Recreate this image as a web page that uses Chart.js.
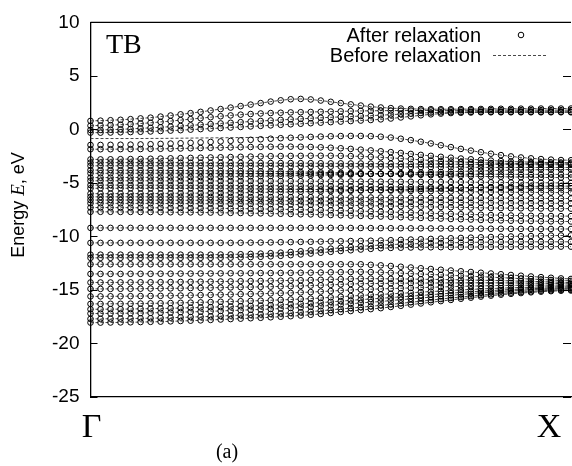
<!DOCTYPE html>
<html>
<head>
<meta charset="utf-8">
<script src="https://cdn.jsdelivr.net/npm/chart.js@4.4.0/dist/chart.umd.min.js"></script>
<style>
html, body { margin: 0; padding: 0; background: #fff; overflow: hidden; }
canvas { display: block; }
</style>
</head>
<body>
<canvas id="bands" width="576" height="466"></canvas>
<script>
// k-path end labels and energy ticks (eV)
const kLabels = ['Γ', 'X'];
const yTicks = [-25, -20, -15, -10, -5, 0, 5, 10];

// bands around the gap (after relaxation), 49 k-points from Γ to X
const upperBands = [
  [0.8,0.82,0.86,0.9,0.96,1.03,1.1,1.2,1.3,1.41,1.52,1.64,1.77,1.9,2.04,2.18,2.32,2.46,2.6,2.72,2.82,2.85,2.8,2.7,2.58,2.46,2.34,2.23,2.13,2.05,1.99,1.95,1.92,1.9,1.89,1.89,1.89,1.9,1.9,1.91,1.92,1.93,1.93,1.94,1.94,1.95,1.95,1.95,1.95],
  [0.35,0.37,0.4,0.44,0.49,0.55,0.62,0.7,0.78,0.87,0.96,1.05,1.14,1.23,1.31,1.38,1.44,1.49,1.53,1.56,1.59,1.61,1.63,1.65,1.67,1.69,1.71,1.73,1.74,1.75,1.76,1.76,1.77,1.77,1.78,1.78,1.78,1.79,1.79,1.79,1.8,1.8,1.8,1.8,1.8,1.8,1.8,1.8,1.8],
  [-0.05,-0.04,-0.02,0.01,0.05,0.1,0.15,0.2,0.26,0.32,0.38,0.44,0.5,0.56,0.62,0.68,0.74,0.79,0.84,0.89,0.94,0.99,1.04,1.09,1.13,1.17,1.21,1.25,1.29,1.33,1.38,1.43,1.48,1.53,1.57,1.6,1.62,1.63,1.64,1.65,1.65,1.65,1.65,1.65,1.65,1.65,1.65,1.65,1.65],
  [-0.3,-0.3,-0.29,-0.27,-0.25,-0.22,-0.19,-0.15,-0.11,-0.07,-0.02,0.03,0.08,0.13,0.18,0.23,0.28,0.33,0.38,0.43,0.48,0.53,0.58,0.63,0.68,0.73,0.78,0.83,0.88,0.94,1.02,1.12,1.22,1.32,1.41,1.48,1.53,1.56,1.58,1.6,1.6,1.6,1.6,1.6,1.6,1.6,1.6,1.6,1.6],
  [-1.45,-1.45,-1.44,-1.43,-1.42,-1.4,-1.38,-1.35,-1.32,-1.29,-1.25,-1.21,-1.17,-1.12,-1.07,-1.02,-0.97,-0.92,-0.87,-0.82,-0.78,-0.74,-0.7,-0.67,-0.64,-0.62,-0.61,-0.61,-0.63,-0.68,-0.76,-0.87,-1,-1.15,-1.31,-1.48,-1.65,-1.82,-1.98,-2.13,-2.27,-2.4,-2.52,-2.62,-2.7,-2.77,-2.82,-2.86,-2.88],
  [-1.85,-1.85,-1.85,-1.84,-1.84,-1.83,-1.82,-1.81,-1.8,-1.78,-1.76,-1.74,-1.72,-1.7,-1.68,-1.66,-1.64,-1.63,-1.62,-1.61,-1.61,-1.62,-1.64,-1.67,-1.71,-1.76,-1.82,-1.89,-1.96,-2.04,-2.12,-2.2,-2.29,-2.38,-2.47,-2.56,-2.64,-2.72,-2.79,-2.85,-2.91,-2.96,-3,-3.03,-3.06,-3.08,-3.09,-3.1,-3.1]
];
// the one band whose unrelaxed curve differs near Γ
const band5Before = [-0.85,-0.85,-0.85,-0.85,-0.85,-0.85,-0.84,-0.84,-0.83,-0.82,-0.81,-0.8,-0.79,-0.78,-0.77,-0.76,-0.75,-0.75,-0.76,-0.77,-0.78,-0.74,-0.7,-0.67,-0.64,-0.62,-0.61,-0.61,-0.63,-0.68,-0.76,-0.87,-1,-1.15,-1.31,-1.48,-1.65,-1.82,-1.98,-2.13,-2.27,-2.4,-2.52,-2.62,-2.7,-2.77,-2.82,-2.86,-2.88];

// dense block between -3 and -9 eV
const valenceBands = [
  [-2.8,-2.8,-2.79,-2.78,-2.77,-2.76,-2.74,-2.72,-2.7,-2.68,-2.66,-2.64,-2.62,-2.6,-2.58,-2.56,-2.54,-2.52,-2.5,-2.49,-2.48,-2.47,-2.46,-2.46,-2.46,-2.47,-2.49,-2.52,-2.56,-2.61,-2.66,-2.72,-2.78,-2.84,-2.9,-2.95,-3,-3.04,-3.08,-3.11,-3.14,-3.16,-3.18,-3.19,-3.2,-3.2,-3.21,-3.21,-3.21],
  [-3.1,-3.1,-3.1,-3.1,-3.1,-3.1,-3.1,-3.1,-3.1,-3.1,-3.11,-3.11,-3.12,-3.12,-3.12,-3.12,-3.13,-3.13,-3.14,-3.14,-3.14,-3.15,-3.15,-3.16,-3.17,-3.17,-3.18,-3.18,-3.19,-3.2,-3.2,-3.21,-3.22,-3.23,-3.23,-3.24,-3.25,-3.25,-3.26,-3.27,-3.27,-3.28,-3.28,-3.29,-3.29,-3.3,-3.3,-3.3,-3.3],
  [-3.4,-3.4,-3.4,-3.4,-3.4,-3.4,-3.4,-3.4,-3.4,-3.4,-3.4,-3.4,-3.41,-3.41,-3.42,-3.42,-3.43,-3.43,-3.44,-3.44,-3.45,-3.45,-3.46,-3.46,-3.47,-3.47,-3.48,-3.48,-3.49,-3.49,-3.5,-3.5,-3.51,-3.51,-3.52,-3.52,-3.53,-3.53,-3.54,-3.54,-3.55,-3.55,-3.55,-3.55,-3.55,-3.55,-3.55,-3.55,-3.55],
  [-3.8,-3.8,-3.8,-3.81,-3.81,-3.81,-3.81,-3.82,-3.83,-3.84,-3.84,-3.85,-3.86,-3.86,-3.88,-3.88,-3.9,-3.91,-3.93,-3.94,-3.95,-3.98,-3.99,-4.01,-4.03,-4.05,-4.07,-4.09,-4.12,-4.14,-4.16,-4.19,-4.21,-4.24,-4.27,-4.29,-4.32,-4.34,-4.36,-4.39,-4.41,-4.42,-4.44,-4.46,-4.47,-4.49,-4.49,-4.5,-4.5],
  [-4.1,-4.1,-4.1,-4.1,-4.1,-4.1,-4.1,-4.1,-4.1,-4.1,-4.11,-4.11,-4.11,-4.11,-4.11,-4.11,-4.12,-4.12,-4.12,-4.13,-4.13,-4.13,-4.14,-4.14,-4.14,-4.15,-4.15,-4.15,-4.16,-4.16,-4.16,-4.17,-4.17,-4.17,-4.18,-4.18,-4.18,-4.18,-4.19,-4.19,-4.19,-4.19,-4.2,-4.2,-4.2,-4.2,-4.2,-4.2,-4.2],
  [-4.5,-4.5,-4.5,-4.49,-4.49,-4.48,-4.48,-4.48,-4.47,-4.46,-4.45,-4.45,-4.44,-4.43,-4.42,-4.41,-4.39,-4.38,-4.36,-4.35,-4.33,-4.31,-4.3,-4.27,-4.25,-4.23,-4.21,-4.18,-4.16,-4.13,-4.11,-4.08,-4.06,-4.03,-4,-3.97,-3.94,-3.92,-3.9,-3.87,-3.85,-3.83,-3.81,-3.79,-3.78,-3.76,-3.76,-3.75,-3.75],
  [-4.8,-4.8,-4.8,-4.8,-4.8,-4.8,-4.8,-4.81,-4.81,-4.81,-4.81,-4.81,-4.81,-4.82,-4.82,-4.82,-4.82,-4.82,-4.83,-4.83,-4.83,-4.84,-4.84,-4.85,-4.85,-4.86,-4.86,-4.87,-4.87,-4.88,-4.88,-4.89,-4.89,-4.9,-4.9,-4.91,-4.92,-4.92,-4.93,-4.94,-4.94,-4.95,-4.96,-4.97,-4.98,-4.98,-4.99,-5,-5],
  [-5.2,-5.2,-5.2,-5.2,-5.2,-5.21,-5.21,-5.21,-5.21,-5.22,-5.22,-5.22,-5.22,-5.23,-5.23,-5.24,-5.24,-5.25,-5.25,-5.26,-5.27,-5.28,-5.28,-5.29,-5.3,-5.31,-5.32,-5.33,-5.34,-5.35,-5.36,-5.37,-5.38,-5.39,-5.4,-5.41,-5.42,-5.43,-5.44,-5.45,-5.46,-5.47,-5.48,-5.48,-5.49,-5.49,-5.5,-5.5,-5.5],
  [-5.5,-5.5,-5.5,-5.5,-5.5,-5.51,-5.51,-5.51,-5.52,-5.52,-5.52,-5.53,-5.53,-5.54,-5.54,-5.55,-5.56,-5.56,-5.57,-5.58,-5.59,-5.6,-5.61,-5.62,-5.63,-5.64,-5.66,-5.67,-5.68,-5.7,-5.71,-5.72,-5.74,-5.75,-5.77,-5.78,-5.8,-5.81,-5.82,-5.84,-5.85,-5.86,-5.87,-5.88,-5.88,-5.89,-5.9,-5.9,-5.9],
  [-6,-6,-6,-5.99,-5.99,-5.99,-5.99,-5.98,-5.97,-5.96,-5.96,-5.95,-5.94,-5.94,-5.92,-5.92,-5.9,-5.89,-5.87,-5.86,-5.85,-5.82,-5.81,-5.79,-5.77,-5.75,-5.73,-5.71,-5.68,-5.66,-5.64,-5.61,-5.59,-5.56,-5.53,-5.51,-5.48,-5.46,-5.44,-5.41,-5.39,-5.38,-5.36,-5.34,-5.33,-5.31,-5.31,-5.3,-5.3],
  [-6.3,-6.3,-6.3,-6.3,-6.3,-6.3,-6.3,-6.3,-6.3,-6.3,-6.3,-6.3,-6.31,-6.31,-6.31,-6.31,-6.32,-6.32,-6.32,-6.32,-6.33,-6.33,-6.33,-6.34,-6.34,-6.35,-6.35,-6.35,-6.36,-6.36,-6.37,-6.37,-6.38,-6.38,-6.39,-6.39,-6.4,-6.4,-6.41,-6.41,-6.42,-6.42,-6.43,-6.43,-6.44,-6.44,-6.45,-6.45,-6.45],
  [-6.6,-6.6,-6.6,-6.6,-6.6,-6.61,-6.61,-6.61,-6.61,-6.62,-6.62,-6.62,-6.62,-6.63,-6.63,-6.64,-6.64,-6.65,-6.65,-6.66,-6.67,-6.68,-6.68,-6.69,-6.7,-6.71,-6.72,-6.73,-6.74,-6.75,-6.76,-6.77,-6.78,-6.79,-6.8,-6.81,-6.82,-6.83,-6.84,-6.85,-6.86,-6.87,-6.88,-6.88,-6.89,-6.89,-6.9,-6.9,-6.9],
  [-6.9,-6.9,-6.9,-6.91,-6.91,-6.91,-6.91,-6.92,-6.92,-6.93,-6.93,-6.94,-6.94,-6.95,-6.96,-6.96,-6.97,-6.98,-6.99,-7,-7.01,-7.03,-7.04,-7.05,-7.07,-7.08,-7.1,-7.11,-7.13,-7.15,-7.16,-7.18,-7.2,-7.22,-7.24,-7.25,-7.27,-7.29,-7.3,-7.32,-7.34,-7.35,-7.36,-7.37,-7.38,-7.39,-7.4,-7.4,-7.4],
  [-7.3,-7.3,-7.3,-7.31,-7.31,-7.32,-7.32,-7.32,-7.33,-7.34,-7.35,-7.36,-7.36,-7.37,-7.39,-7.4,-7.41,-7.43,-7.44,-7.46,-7.48,-7.5,-7.52,-7.54,-7.56,-7.59,-7.61,-7.64,-7.66,-7.69,-7.72,-7.75,-7.77,-7.8,-7.84,-7.86,-7.89,-7.92,-7.94,-7.97,-8,-8.01,-8.04,-8.05,-8.07,-8.08,-8.09,-8.1,-8.1],
  [-7.7,-7.7,-7.7,-7.71,-7.71,-7.72,-7.72,-7.73,-7.74,-7.75,-7.75,-7.76,-7.77,-7.78,-7.8,-7.81,-7.83,-7.84,-7.86,-7.88,-7.9,-7.93,-7.94,-7.97,-8,-8.02,-8.05,-8.08,-8.11,-8.14,-8.17,-8.2,-8.23,-8.27,-8.3,-8.33,-8.37,-8.39,-8.42,-8.46,-8.48,-8.5,-8.53,-8.55,-8.56,-8.58,-8.59,-8.6,-8.6]
];

// nearly flat bands between -9 and -12 eV
const middleBands = [
  [-9.2,-9.2,-9.2,-9.2,-9.2,-9.2,-9.2,-9.2,-9.2,-9.2,-9.2,-9.2,-9.2,-9.2,-9.2,-9.2,-9.2,-9.2,-9.2,-9.2,-9.2,-9.2,-9.2,-9.2,-9.2,-9.2,-9.21,-9.21,-9.22,-9.22,-9.23,-9.23,-9.24,-9.24,-9.25,-9.25,-9.26,-9.26,-9.27,-9.27,-9.28,-9.28,-9.29,-9.29,-9.3,-9.3,-9.3,-9.3,-9.3],
  [-10.6,-10.6,-10.6,-10.6,-10.6,-10.6,-10.6,-10.6,-10.6,-10.6,-10.6,-10.6,-10.6,-10.6,-10.6,-10.59,-10.58,-10.57,-10.56,-10.54,-10.53,-10.51,-10.5,-10.48,-10.46,-10.45,-10.43,-10.42,-10.4,-10.38,-10.35,-10.32,-10.29,-10.26,-10.23,-10.2,-10.17,-10.14,-10.11,-10.08,-10.05,-10.02,-10,-9.98,-9.96,-9.94,-9.92,-9.91,-9.9],
  [-11.7,-11.7,-11.7,-11.7,-11.7,-11.7,-11.7,-11.7,-11.7,-11.7,-11.7,-11.7,-11.7,-11.69,-11.68,-11.66,-11.63,-11.6,-11.56,-11.51,-11.45,-11.38,-11.3,-11.22,-11.14,-11.06,-10.99,-10.92,-10.86,-10.8,-10.76,-10.72,-10.69,-10.66,-10.63,-10.61,-10.59,-10.57,-10.55,-10.54,-10.53,-10.52,-10.51,-10.5,-10.5,-10.5,-10.5,-10.5,-10.5],
  [-12,-12,-12,-12,-12,-12,-12,-12,-12,-12,-12,-12,-12,-11.99,-11.98,-11.96,-11.93,-11.9,-11.86,-11.81,-11.75,-11.68,-11.6,-11.52,-11.44,-11.36,-11.29,-11.22,-11.16,-11.1,-11.07,-11.05,-11.03,-11.02,-11.01,-11,-11,-10.99,-10.99,-10.98,-10.98,-10.97,-10.97,-10.96,-10.96,-10.96,-10.95,-10.95,-10.95]
];

// lowest block, fanning in towards X
const lowerBands = [
  [-12.6,-12.6,-12.6,-12.6,-12.6,-12.6,-12.6,-12.6,-12.6,-12.6,-12.6,-12.6,-12.6,-12.6,-12.6,-12.6,-12.6,-12.6,-12.6,-12.6,-12.6,-12.6,-12.6,-12.6,-12.6,-12.6,-12.6,-12.6,-12.65,-12.7,-12.76,-12.83,-12.9,-12.97,-13.04,-13.11,-13.18,-13.25,-13.32,-13.39,-13.46,-13.53,-13.6,-13.67,-13.74,-13.8,-13.86,-13.92,-13.97],
  [-13.5,-13.5,-13.5,-13.5,-13.49,-13.49,-13.49,-13.48,-13.48,-13.47,-13.47,-13.46,-13.46,-13.45,-13.44,-13.44,-13.43,-13.42,-13.42,-13.41,-13.4,-13.39,-13.38,-13.37,-13.35,-13.34,-13.32,-13.31,-13.33,-13.36,-13.39,-13.43,-13.47,-13.51,-13.55,-13.59,-13.63,-13.67,-13.72,-13.76,-13.8,-13.85,-13.89,-13.94,-13.98,-14.02,-14.07,-14.11,-14.15],
  [-14.3,-14.3,-14.3,-14.29,-14.29,-14.28,-14.28,-14.27,-14.26,-14.25,-14.24,-14.23,-14.22,-14.21,-14.2,-14.18,-14.17,-14.16,-14.14,-14.13,-14.11,-14.09,-14.07,-14.05,-14.02,-13.99,-13.96,-13.94,-13.94,-13.95,-13.96,-13.97,-13.98,-14,-14.01,-14.02,-14.04,-14.05,-14.07,-14.09,-14.11,-14.13,-14.15,-14.18,-14.2,-14.22,-14.25,-14.28,-14.31],
  [-14.9,-14.9,-14.9,-14.89,-14.89,-14.88,-14.87,-14.86,-14.85,-14.84,-14.82,-14.81,-14.79,-14.78,-14.76,-14.74,-14.73,-14.71,-14.69,-14.67,-14.65,-14.62,-14.59,-14.56,-14.52,-14.48,-14.44,-14.41,-14.4,-14.39,-14.38,-14.37,-14.36,-14.36,-14.35,-14.35,-14.34,-14.34,-14.33,-14.33,-14.33,-14.34,-14.34,-14.35,-14.37,-14.37,-14.39,-14.41,-14.43],
  [-15.6,-15.6,-15.59,-15.59,-15.58,-15.57,-15.56,-15.55,-15.53,-15.52,-15.5,-15.48,-15.46,-15.44,-15.42,-15.39,-15.37,-15.35,-15.32,-15.3,-15.27,-15.23,-15.2,-15.15,-15.1,-15.05,-15,-14.95,-14.93,-14.9,-14.87,-14.84,-14.81,-14.78,-14.75,-14.72,-14.69,-14.66,-14.64,-14.62,-14.6,-14.58,-14.57,-14.56,-14.55,-14.55,-14.55,-14.55,-14.56],
  [-16.3,-16.3,-16.29,-16.29,-16.28,-16.27,-16.25,-16.24,-16.22,-16.2,-16.18,-16.16,-16.13,-16.1,-16.08,-16.05,-16.02,-16,-15.96,-15.93,-15.89,-15.85,-15.81,-15.75,-15.69,-15.63,-15.57,-15.51,-15.46,-15.42,-15.36,-15.31,-15.26,-15.2,-15.15,-15.1,-15.05,-15,-14.95,-14.9,-14.87,-14.83,-14.8,-14.77,-14.75,-14.72,-14.71,-14.7,-14.7],
  [-16.8,-16.8,-16.79,-16.79,-16.78,-16.76,-16.75,-16.73,-16.71,-16.69,-16.66,-16.64,-16.61,-16.58,-16.55,-16.52,-16.49,-16.46,-16.42,-16.38,-16.34,-16.29,-16.24,-16.18,-16.11,-16.04,-15.97,-15.9,-15.84,-15.78,-15.71,-15.64,-15.58,-15.51,-15.44,-15.37,-15.3,-15.23,-15.17,-15.11,-15.06,-15,-14.96,-14.92,-14.88,-14.85,-14.82,-14.81,-14.8],
  [-17.2,-17.2,-17.19,-17.18,-17.17,-17.16,-17.14,-17.12,-17.1,-17.07,-17.05,-17.02,-16.99,-16.96,-16.92,-16.89,-16.85,-16.82,-16.78,-16.74,-16.69,-16.64,-16.58,-16.52,-16.44,-16.36,-16.29,-16.21,-16.14,-16.08,-15.99,-15.91,-15.83,-15.75,-15.67,-15.58,-15.5,-15.42,-15.35,-15.27,-15.21,-15.14,-15.09,-15.04,-14.99,-14.95,-14.92,-14.89,-14.88],
  [-17.7,-17.7,-17.69,-17.68,-17.67,-17.65,-17.64,-17.62,-17.59,-17.56,-17.53,-17.5,-17.47,-17.43,-17.39,-17.35,-17.32,-17.28,-17.23,-17.19,-17.14,-17.08,-17.02,-16.94,-16.86,-16.77,-16.69,-16.61,-16.53,-16.44,-16.35,-16.25,-16.15,-16.05,-15.95,-15.85,-15.75,-15.66,-15.57,-15.48,-15.4,-15.32,-15.25,-15.19,-15.13,-15.07,-15.03,-15,-14.98],
  [-18.05,-18.05,-18.04,-18.03,-18.02,-18,-17.98,-17.96,-17.93,-17.9,-17.87,-17.84,-17.8,-17.76,-17.72,-17.68,-17.64,-17.6,-17.55,-17.5,-17.45,-17.39,-17.32,-17.24,-17.15,-17.06,-16.97,-16.88,-16.79,-16.7,-16.59,-16.48,-16.37,-16.26,-16.15,-16.04,-15.93,-15.82,-15.72,-15.62,-15.53,-15.44,-15.36,-15.29,-15.22,-15.16,-15.11,-15.07,-15.05]
];

const allBands = upperBands.concat(valenceBands, middleBands, lowerBands);
const lastK = allBands[0].length - 1;
const toPoints = arr => arr.map((e, k) => ({ x: k, y: e }));

const datasets = [];
// after relaxation: open circles
allBands.forEach(band => {
    datasets.push({
        label: 'After relaxation',
        data: toPoints(band),
        showLine: false,
        pointRadius: 2.8,
        pointBorderWidth: 1,
        pointBorderColor: '#000',
        pointBackgroundColor: 'rgba(255,255,255,0)',
        clip: false
    });
});
// before relaxation: thin dashed curves
allBands.forEach((band, n) => {
    datasets.push({
        label: 'Before relaxation',
        data: toPoints(n === 4 ? band5Before : band),
        showLine: true,
        borderColor: '#333',
        borderWidth: 0.9,
        borderDash: [3, 2],
        pointRadius: 0,
        clip: false
    });
});

// frame, inner ticks and all the annotations gnuplot would put there
const decorPlugin = {
    id: 'decor',
    afterDraw(chart) {
        const ctx = chart.ctx;
        const a = chart.chartArea;
        const xs = chart.scales.x;
        const ys = chart.scales.y;
        ctx.save();
        ctx.strokeStyle = '#000';
        ctx.lineWidth = 1.3;
        ctx.beginPath();
        ctx.moveTo(a.left, a.top);
        ctx.lineTo(a.right, a.top);
        ctx.stroke();

        ctx.lineWidth = 1;
        yTicks.forEach(v => {
            const py = Math.round(ys.getPixelForValue(v)) + 0.5;
            ctx.beginPath();
            ctx.moveTo(a.left, py);
            ctx.lineTo(a.left + 7, py);
            ctx.moveTo(a.right - 8, py);
            ctx.lineTo(a.right, py);
            ctx.stroke();
        });

        ctx.fillStyle = '#000';
        ctx.textBaseline = 'alphabetic';
        ctx.textAlign = 'center';
        ctx.font = '34px "Liberation Serif"';
        ctx.fillText(kLabels[0], xs.getPixelForValue(0) + 1, 437);
        ctx.fillText(kLabels[1], xs.getPixelForValue(lastK) - 22, 437);
        ctx.font = '20px "Liberation Serif"';
        ctx.fillText('(a)', 227, 458);

        ctx.textAlign = 'left';
        ctx.font = '28px "Liberation Serif"';
        ctx.fillText('TB', 106, 53);

        // legend
        ctx.textAlign = 'right';
        ctx.textBaseline = 'middle';
        ctx.font = '20px "Liberation Sans"';
        ctx.fillText('After relaxation', 481, 36);
        ctx.fillText('Before relaxation', 481, 56);
        ctx.strokeStyle = '#000';
        ctx.lineWidth = 1;
        ctx.beginPath();
        ctx.arc(521, 35, 2.8, 0, Math.PI * 2);
        ctx.stroke();
        ctx.strokeStyle = '#333';
        ctx.lineWidth = 0.9;
        ctx.setLineDash([3, 2]);
        ctx.beginPath();
        ctx.moveTo(493, 55.5);
        ctx.lineTo(548, 55.5);
        ctx.stroke();
        ctx.setLineDash([]);

        // y title with italic E
        ctx.translate(19, 205);
        ctx.rotate(-Math.PI / 2);
        ctx.textAlign = 'left';
        const sans = '18px "Liberation Sans"';
        const ital = 'italic 19px "Liberation Serif"';
        const parts = [['Energy ', sans], ['E', ital], [', eV', sans]];
        let total = 0;
        parts.forEach(p => { ctx.font = p[1]; total += ctx.measureText(p[0]).width; });
        let cx = -total / 2;
        parts.forEach(p => {
            ctx.font = p[1];
            ctx.fillText(p[0], cx, 0);
            cx += ctx.measureText(p[0]).width;
        });
        ctx.restore();
    }
};

new Chart(document.getElementById('bands'), {
    type: 'scatter',
    data: { datasets: datasets },
    options: {
        responsive: false,
        devicePixelRatio: 1,
        animation: false,
        events: [],
        layout: { padding: { left: 0, top: 19, right: 2, bottom: 69 } },
        plugins: { legend: { display: false }, tooltip: { enabled: false } },
        scales: {
            x: {
                type: 'linear',
                min: 0,
                max: lastK,
                ticks: { display: false },
                grid: { display: false, drawTicks: false },
                border: { display: true, color: '#000', width: 1.3 },
                afterFit: s => { s.height = 0; }
            },
            y: {
                min: -25,
                max: 10,
                afterBuildTicks: s => { s.ticks = yTicks.map(v => ({ value: v })); },
                ticks: { color: '#000', padding: 11, font: { family: 'Liberation Sans', size: 19 } },
                grid: { display: false, drawTicks: false },
                border: { display: true, color: '#000', width: 1.3 },
                afterFit: s => { s.width = 90.5; }
            }
        }
    },
    plugins: [decorPlugin]
});
</script>
</body>
</html>
